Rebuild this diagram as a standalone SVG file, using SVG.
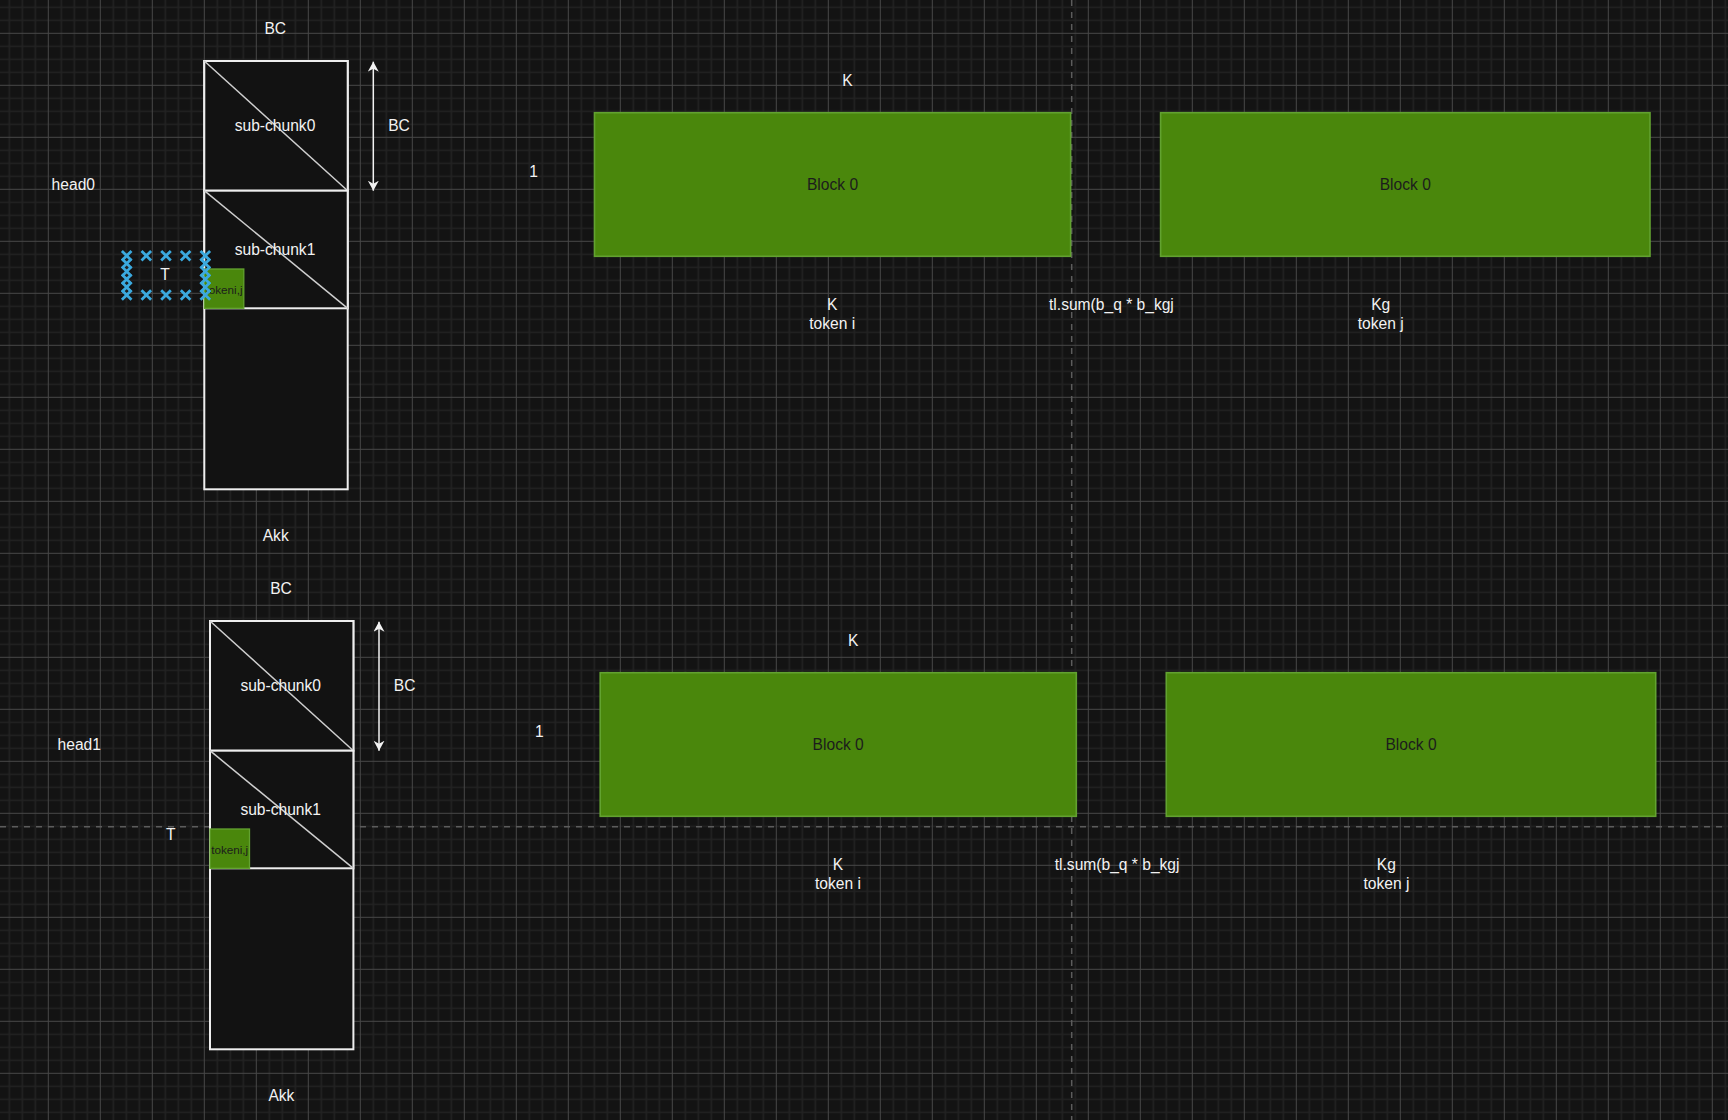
<svg xmlns="http://www.w3.org/2000/svg" width="1728" height="1120" viewBox="0 0 1728 1120">
<defs>
<pattern id="grid" width="52" height="52" patternUnits="userSpaceOnUse" x="47.8" y="32.8">
<path d="M13.5,0V52M26.5,0V52M39.5,0V52M0,13.5H52M0,26.5H52M0,39.5H52" stroke="#222222" stroke-width="1.6" fill="none"/>
<path d="M0.5,0V52M0,0.5H52" stroke="#474747" stroke-width="1" fill="none"/>
</pattern>
<marker id="arr" viewBox="0 0 10 11" refX="10" refY="5.5" markerWidth="10" markerHeight="11" markerUnits="userSpaceOnUse" orient="auto-start-reverse">
<path d="M0,0 L10,5.5 L0,11 L3,5.5 Z" fill="#f2f2f2"/>
</marker>
<path id="x" d="M-4.8,-4.8L4.8,4.8M4.8,-4.8L-4.8,4.8" stroke="#3ba9de" stroke-width="2.8" fill="none"/>
</defs>
<style>
.lbl{font-family:"Liberation Sans",Arial,sans-serif;font-size:15.6px;fill:#f2f2f2;text-anchor:middle}
.st{text-anchor:start}
.dark{fill:#1c1c1c}
.small{font-size:11.7px}
.col{fill:#121212;stroke:#eeeeee;stroke-width:2}
.diag{stroke:#cfcfcf;stroke-width:1.5;fill:none}
.blk{fill:#4a870c;stroke:#62a230;stroke-width:1.6}
.tok{fill:#4a870c;stroke:#62a230;stroke-width:1.3}
.pb{stroke:#5c5c5c;stroke-width:1.5;stroke-dasharray:6 6;fill:none}
</style>
<rect width="1728" height="1120" fill="#131313"/>
<rect width="1728" height="1120" fill="url(#grid)"/>
<g id="page-breaks">
<path class="pb" d="M1071.7,0V1120"/>
<path class="pb" d="M0,826.7H1728"/>
</g>

<g id="head0-section">
<g id="head0-label"><text class="lbl" x="73.3" y="189.9">head0</text></g>
<g id="bc-top-0"><text class="lbl" x="275.3" y="33.9">BC</text></g>
<g id="column-0"><rect class="col" x="204.3" y="61" width="143.4" height="428.3"/></g>
<g id="subchunk0-0"><rect class="col" x="204.3" y="61" width="143.4" height="129.7"/><path class="diag" d="M204.3,61L347.7,190.7"/><text class="lbl" x="275" y="131.3">sub-chunk0</text></g>
<g id="subchunk1-0"><rect class="col" x="204.3" y="190.7" width="143.4" height="117.6"/><path class="diag" d="M204.3,190.7L347.7,308.3"/><text class="lbl" x="275" y="255.3">sub-chunk1</text></g>
<g id="token-0"><rect class="tok" x="204.3" y="269" width="39.5" height="39.3"/><text class="lbl dark small" x="224" y="293.5">tokeni,j</text></g>
<g id="t-sel-0">
<use href="#x" x="126.7" y="255.7"/><use href="#x" x="146.3" y="255.7"/><use href="#x" x="166" y="255.7"/><use href="#x" x="185.6" y="255.7"/><use href="#x" x="205.3" y="255.7"/>
<use href="#x" x="126.7" y="295"/><use href="#x" x="146.3" y="295"/><use href="#x" x="166" y="295"/><use href="#x" x="185.6" y="295"/><use href="#x" x="205.3" y="295"/>
<use href="#x" x="126.7" y="263.56"/><use href="#x" x="126.7" y="271.42"/><use href="#x" x="126.7" y="279.28"/><use href="#x" x="126.7" y="287.14"/>
<use href="#x" x="205.3" y="263.56"/><use href="#x" x="205.3" y="271.42"/><use href="#x" x="205.3" y="279.28"/><use href="#x" x="205.3" y="287.14"/>
</g>
<g id="t-label-0"><text class="lbl" x="165" y="279.9">T</text></g>
<g id="bc-right-0"><text class="lbl" x="399" y="131.3">BC</text></g>
<g id="akk-0"><text class="lbl" x="275.7" y="540.6">Akk</text></g>
<g id="one-0"><text class="lbl" x="533.7" y="177.3">1</text></g>
<g id="k-top-0"><text class="lbl" x="847.5" y="86.3">K</text></g>
<g id="block-k-0"><rect class="blk" x="594.5" y="112.7" width="476.1" height="143.6"/><text class="lbl dark" x="832.5" y="190.1">Block 0</text></g>
<g id="block-kg-0"><rect class="blk" x="1160.6" y="112.7" width="489.4" height="143.6"/><text class="lbl dark" x="1405.3" y="190.1">Block 0</text></g>
<g id="k-token-i-0"><text class="lbl" x="832.2" y="309.9">K</text><text class="lbl" x="832.2" y="328.9">token i</text></g>
<g id="tlsum-0"><text class="lbl st" x="1049" y="309.9">tl.sum(b_q * b_kgj</text></g>
<g id="kg-token-j-0"><text class="lbl" x="1380.7" y="309.9">Kg</text><text class="lbl" x="1380.7" y="328.9">token j</text></g>
</g>

<g id="head1-section" transform="translate(5.7,560)">
<g id="head1-label"><text class="lbl" x="73.6" y="189.9">head1</text></g>
<g id="bc-top-1"><text class="lbl" x="275.3" y="33.9">BC</text></g>
<g id="column-1"><rect class="col" x="204.3" y="61" width="143.4" height="428.3"/></g>
<g id="subchunk0-1"><rect class="col" x="204.3" y="61" width="143.4" height="129.7"/><path class="diag" d="M204.3,61L347.7,190.7"/><text class="lbl" x="275" y="131.3">sub-chunk0</text></g>
<g id="subchunk1-1"><rect class="col" x="204.3" y="190.7" width="143.4" height="117.6"/><path class="diag" d="M204.3,190.7L347.7,308.3"/><text class="lbl" x="275" y="255.3">sub-chunk1</text></g>
<g id="token-1"><rect class="tok" x="204.3" y="269" width="39.5" height="39.3"/><text class="lbl dark small" x="224" y="293.5">tokeni,j</text></g>
<g id="t-label-1"><text class="lbl" x="165" y="279.9">T</text></g>
<g id="bc-right-1"><text class="lbl" x="399" y="131.3">BC</text></g>
<g id="akk-1"><text class="lbl" x="275.7" y="540.6">Akk</text></g>
<g id="one-1"><text class="lbl" x="533.7" y="177.3">1</text></g>
<g id="k-top-1"><text class="lbl" x="847.5" y="86.3">K</text></g>
<g id="block-k-1"><rect class="blk" x="594.5" y="112.7" width="476.1" height="143.6"/><text class="lbl dark" x="832.5" y="190.1">Block 0</text></g>
<g id="block-kg-1"><rect class="blk" x="1160.6" y="112.7" width="489.4" height="143.6"/><text class="lbl dark" x="1405.3" y="190.1">Block 0</text></g>
<g id="k-token-i-1"><text class="lbl" x="832.2" y="309.9">K</text><text class="lbl" x="832.2" y="328.9">token i</text></g>
<g id="tlsum-1"><text class="lbl st" x="1049" y="309.9">tl.sum(b_q * b_kgj</text></g>
<g id="kg-token-j-1"><text class="lbl" x="1380.7" y="309.9">Kg</text><text class="lbl" x="1380.7" y="328.9">token j</text></g>
</g>

<g id="connectors">
<path d="M373.3,61.7V190.7" stroke="#f2f2f2" stroke-width="1.5" fill="none" marker-start="url(#arr)" marker-end="url(#arr)"/>
<path d="M379,621.7V750.7" stroke="#f2f2f2" stroke-width="1.5" fill="none" marker-start="url(#arr)" marker-end="url(#arr)"/>
</g>
</svg>
